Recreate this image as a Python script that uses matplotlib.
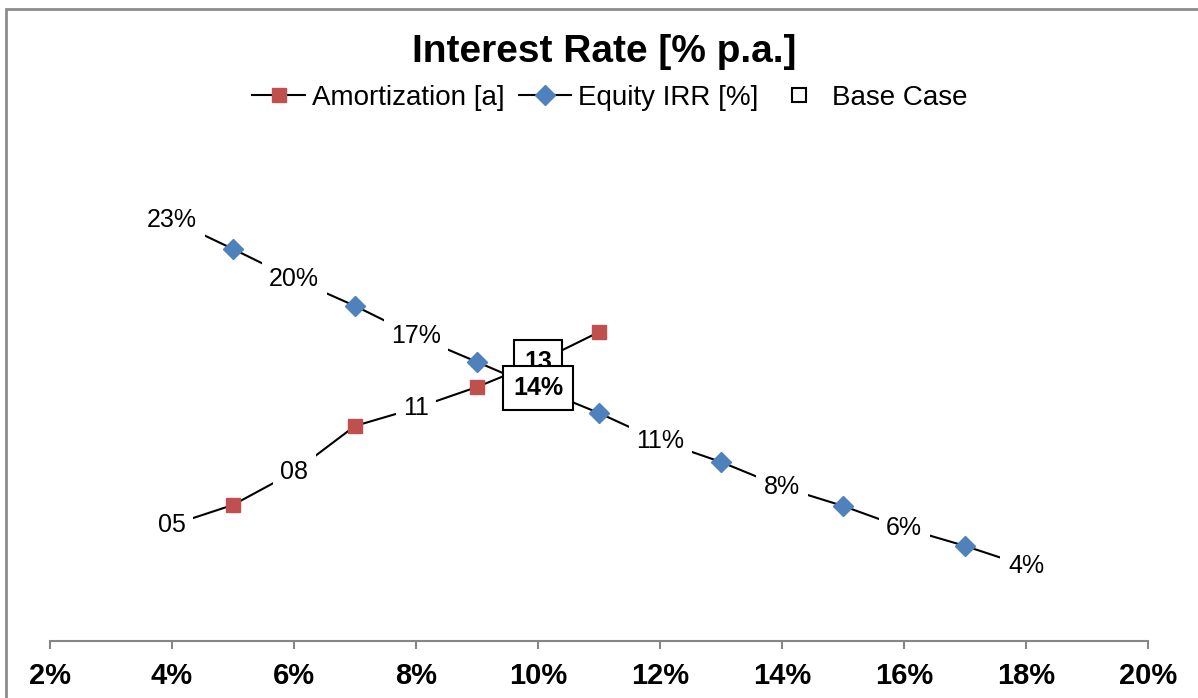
import matplotlib
matplotlib.use('Agg')
import matplotlib.pyplot as plt
from matplotlib.lines import Line2D
from matplotlib.patches import Rectangle

plt.rcParams['font.family'] = ['Liberation Sans', 'DejaVu Sans']

# interest rate steps [% p.a.] and model outputs
rate = [4, 5, 6, 7, 8, 9, 10, 11, 12, 13, 14, 15, 16, 17, 18]
irr = [23.07, 21.48, 19.84, 18.36, 16.71, 15.29, 13.86, 12.49,
       10.96, 9.81, 8.44, 7.40, 6.19, 5.21, 4.11]
amort_rate = [4, 5, 6, 7, 8, 9, 10, 11]
amort = [5.45, 6.39, 7.94, 10.10, 10.94, 11.93, 13.10, 14.51]
base_rate = 10
xticks = [2, 4, 6, 8, 10, 12, 14, 16, 18, 20]

RED = '#C0504D'
BLUE = '#4F81BD'
GRAY = '#868686'

W, H = 1198, 698
fig = plt.figure(figsize=(W / 100, H / 100), dpi=100)
ax = fig.add_axes([50 / W, 1 - 641 / H, 1098 / W, 511 / H])
ax2 = ax.twinx()

ax.set_xlim(2, 20)
ax.set_ylim(0, 28)
ax2.set_ylim(0, 24)

# lines through every step, markers on the odd steps
ax.plot(rate, irr, color='black', lw=1.5, zorder=2)
ax.plot(rate[1::2], irr[1::2], ls='none', marker='D', ms=10,
        mfc=BLUE, mec=BLUE, zorder=3)
ax2.plot(amort_rate, amort, color='black', lw=1.5, zorder=2)
ax2.plot(amort_rate[1::2], amort[1::2], ls='none', marker='s', ms=10,
         mfc=RED, mec=RED, zorder=3)

label_box = dict(boxstyle='square,pad=0.3', fc='white', ec='none')
for r, v in zip(rate[::2], irr[::2]):
    if r == base_rate:
        continue
    ax.text(r, v, f'{v:.0f}%', ha='center', va='center', fontsize=18,
            bbox=label_box, zorder=4)
for r, v in zip(amort_rate[::2], amort[::2]):
    if r == base_rate:
        continue
    ax2.text(r, v, f'{v:02.0f}', ha='center', va='center', fontsize=18,
             bbox=label_box, zorder=4)

# base case values in boxes
base_box = dict(boxstyle='square,pad=0.4', fc='white', ec='black', lw=1.5)
bi = amort_rate.index(base_rate)
ax2.text(base_rate, amort[bi], f'{amort[bi]:02.0f}', ha='center', va='center',
         fontsize=18, fontweight='bold', bbox=base_box, zorder=5)
bi = rate.index(base_rate)
ax2.text(base_rate, irr[bi], f'{irr[bi]:.0f}%', ha='center', va='center',
         fontsize=18, fontweight='bold', bbox=base_box, zorder=6,
         transform=ax.transData)

for a in (ax, ax2):
    for side in ('left', 'right', 'top'):
        a.spines[side].set_visible(False)
    a.tick_params(axis='y', left=False, right=False,
                  labelleft=False, labelright=False)
ax2.spines['bottom'].set_visible(False)
ax.spines['bottom'].set_color(GRAY)
ax.spines['bottom'].set_linewidth(1.5)

ax.set_xticks(xticks)
ax.set_xticklabels([f'{t}%' for t in xticks], fontsize=21, fontweight='bold')
ax.tick_params(axis='x', color=GRAY, width=1.5, length=6, pad=9)
ax.patch.set_visible(False)

fig.text(604 / W, 1 - 52 / H, 'Interest Rate [% p.a.]', ha='center',
         va='center', fontsize=28, fontweight='bold')

handles = [
    Line2D([], [], color='black', lw=1.5, marker='s', ms=10, mfc=RED, mec=RED),
    Line2D([], [], color='black', lw=1.5, marker='D', ms=10, mfc=BLUE, mec=BLUE),
    Line2D([], [], ls='none', marker='s', ms=10, mfc='white', mec='black', mew=1.5),
]
fig.legend(handles, ['Amortization [a]', 'Equity IRR [%]', 'Base Case'],
           loc='center', bbox_to_anchor=(610 / W, 1 - 98 / H), ncol=3,
           frameon=False, fontsize=20, handlelength=1.9, handletextpad=0.25,
           columnspacing=0.5, borderpad=0)

# chart border
fig.patches.append(Rectangle((6 / W, -0.1), 1.2, 1.1 - 9 / H,
                             transform=fig.transFigure, fill=False,
                             ec='#8c8c8c', lw=2))

fig.savefig('out.png', dpi=100)
